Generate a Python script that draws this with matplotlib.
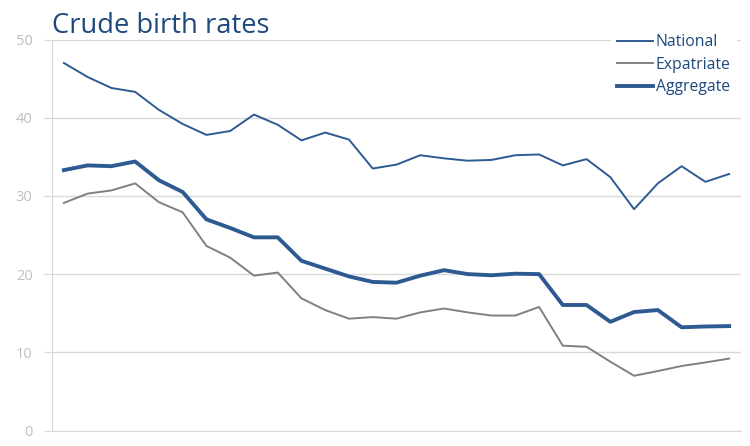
import numpy as np
import matplotlib
matplotlib.use("Agg")
import matplotlib.pyplot as plt

# values (29 yearly points, no x labels)
national = [47.0, 45.2, 43.8, 43.3, 41.0, 39.2, 37.8, 38.3, 40.4, 39.1,
            37.1, 38.1, 37.2, 33.5, 34.0, 35.2, 34.8, 34.5, 34.6, 35.2,
            35.3, 33.9, 34.7, 32.4, 28.3, 31.6, 33.8, 31.8, 32.8]
expatriate = [29.1, 30.3, 30.7, 31.6, 29.2, 27.9, 23.6, 22.1, 19.8, 20.2,
              16.9, 15.4, 14.3, 14.5, 14.3, 15.1, 15.6, 15.1, 14.7, 14.7,
              15.8, 10.85, 10.7, 8.8, 7.0, 7.6, 8.25, 8.7, 9.2]
aggregate = [33.3, 33.9, 33.8, 34.4, 32.0, 30.5, 27.0, 25.9, 24.7, 24.7,
             21.7, 20.7, 19.7, 19.0, 18.9, 19.8, 20.5, 20.0, 19.85, 20.05,
             20.0, 16.05, 16.05, 13.9, 15.15, 15.4, 13.2, 13.3, 13.35]
yticks = [0, 10, 20, 30, 40, 50]

BLUE = '#2E5A92'
GREY = '#808080'
TITLE = '#1F497D'

plt.rcParams['font.family'] = ['Open Sans', 'DejaVu Sans']

fig = plt.figure(figsize=(7.5, 4.46), dpi=100)
ax = fig.add_axes([52/750, 1 - 430.5/446, (741 - 52)/750, (430.5 - 39.5)/446])

x = np.arange(len(national))
ax.plot(x, national, color=BLUE, lw=1.4, label='National', zorder=3)
ax.plot(x, expatriate, color=GREY, lw=1.4, label='Expatriate', zorder=3)
ax.plot(x, aggregate, color=BLUE, lw=2.8, label='Aggregate', zorder=3)

ax.set_xlim(-0.5, len(national) - 0.5)
ax.set_ylim(0, 50)
ax.set_yticks(yticks)
ax.set_xticks([])
ax.grid(axis='y', color='#D9D9D9', lw=1)
ax.tick_params(axis='y', length=6, color='#D9D9D9', labelcolor='#BFBFBF',
               labelsize=10.5, pad=8)
for s in ['top', 'right']:
    ax.spines[s].set_visible(False)
ax.spines['left'].set_color('#D9D9D9')
ax.spines['bottom'].set_color('#D9D9D9')

leg = ax.legend(loc='upper left', bbox_to_anchor=(0.8, 1.05), frameon=True,
                facecolor='white', edgecolor='none', framealpha=1,
                fontsize=11.3, handlelength=2.3, handletextpad=0.15,
                labelspacing=0.42, borderpad=0.4)
for t in leg.get_texts():
    t.set_color(TITLE)

fig.text(52/750, 1 - 33/446, 'Crude birth rates', color=TITLE, fontsize=19.7,
         ha='left', va='baseline')

fig.savefig('out.png', dpi=100)
